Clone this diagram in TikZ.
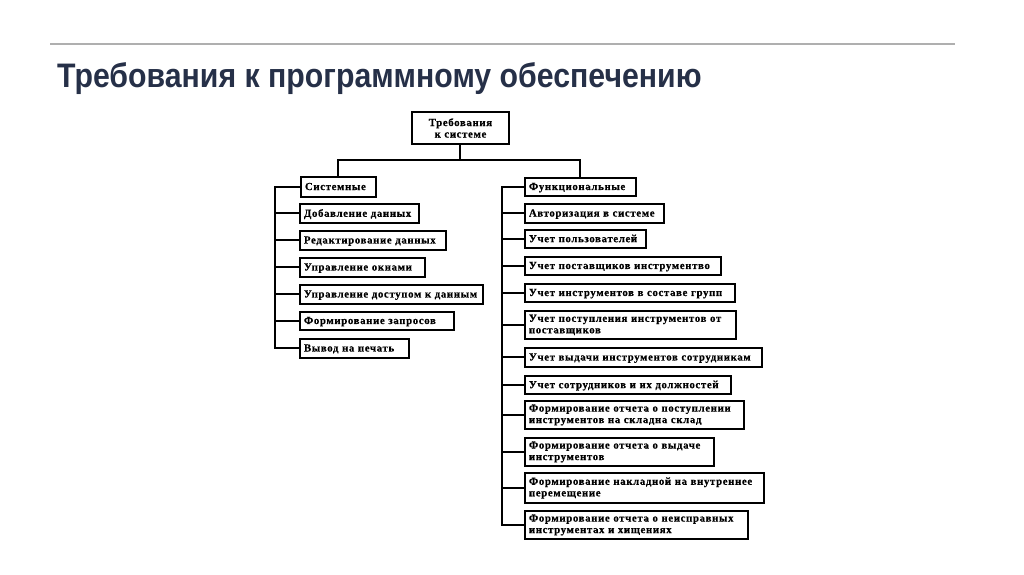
\documentclass[tikz,border=0pt]{standalone}
\usepackage{fontspec}
\setmainfont{Liberation Serif}
\newfontfamily\titlefont{Liberation Sans}[FakeStretch=0.89]
\newfontfamily\boxfont{Liberation Serif}[LetterSpace=6, BoldFeatures={FakeBold=0.6}]
\usetikzlibrary{shadows}
\definecolor{titlecol}{RGB}{38,48,72}
\definecolor{rulecol}{RGB}{175,175,175}
\tikzset{
  box/.style={draw=black, line width=1.9pt, fill=white, anchor=north west,
    align=left, inner xsep=4pt, inner ysep=0.5pt,
    font=\boxfont\bfseries\fontsize{10.8}{11.5}\selectfont,
    drop shadow={shadow xshift=1pt, shadow yshift=-1pt, fill=black!50, opacity=0.7}},
  oneline/.style={box, text depth=1pt},
  conn/.style={draw=black, line width=2pt},
}
\begin{document}
\begin{tikzpicture}[x=1pt,y=-1pt]
\useasboundingbox (0,0) rectangle (1024,574);
\coordinate (rs) at (50,44);
\coordinate (re) at (955,44);
\draw[rulecol, line width=1.5pt] (rs) -- (re);
\node[anchor=base west, inner sep=0pt, text=titlecol, font=\titlefont\bfseries\fontsize{34}{40}\selectfont] (title) at (57,87) {Требования к программному обеспечению};

\node[box, align=center, text width=89pt, minimum height=32pt] (top) at (411,111) {Требования\\к системе};

\node[oneline, text width=67pt, minimum height=20pt] (sys) at (300,176) {Системные};
\node[oneline, text width=111pt, minimum height=19pt] (l1) at (299,203) {Добавление данных};
\node[oneline, text width=138pt, minimum height=19pt] (l2) at (299,230) {Редактирование данных};
\node[oneline, text width=117pt, minimum height=19pt] (l3) at (299,257) {Управление окнами};
\node[oneline, text width=175pt, minimum height=19pt] (l4) at (299,284) {Управление доступом к данным};
\node[oneline, text width=146pt, minimum height=18pt] (l5) at (299,311) {Формирование запросов};
\node[oneline, text width=101pt, minimum height=19pt] (l6) at (299,338) {Вывод на печать};

\node[oneline, text width=103pt, minimum height=18pt] (fun) at (524,177) {Функциональные};
\node[oneline, text width=131pt, minimum height=19pt] (r1) at (524,203) {Авторизация в системе};
\node[oneline, text width=113pt, minimum height=18pt] (r2) at (524,229) {Учет пользователей};
\node[oneline, text width=188pt, minimum height=18pt] (r3) at (524,256) {Учет поставщиков инструментво};
\node[oneline, text width=202pt, minimum height=18pt] (r4) at (524,283) {Учет инструментов в составе групп};
\node[box, text width=203pt, minimum height=28pt] (r5) at (524,310) {Учет поступления инструментов от\\поставщиков};
\node[oneline, text width=229pt, minimum height=19pt] (r6) at (524,347) {Учет выдачи инструментов сотрудникам};
\node[oneline, text width=198pt, minimum height=18pt] (r7) at (524,375) {Учет сотрудников и их должностей};
\node[box, text width=211pt, minimum height=28pt] (r8) at (524,400) {Формирование отчета о поступлении\\инструментов на складна склад};
\node[box, text width=181pt, minimum height=28pt] (r9) at (524,437) {Формирование отчета о выдаче\\инструментов};
\node[box, text width=231pt, minimum height=30pt] (r10) at (524,472) {Формирование накладной на внутреннее\\перемещение};
\node[box, text width=215pt, minimum height=28pt] (r11) at (524,510) {Формирование отчета о неисправных\\инструментах и хищениях};

\coordinate (bus) at (0,160);
\coordinate (lx) at (275,0);
\coordinate (rx) at (502,0);
\draw[conn] (top.south) -- (top.south |- bus);
\draw[conn] (sys.north) -- (sys.north |- bus) -- (fun.north |- bus) -- (fun.north);
\draw[conn] (sys.west) -- (sys.west -| lx) -- (l6.west -| lx) -- (l6.west);
\foreach \n in {l1,l2,l3,l4,l5}{\draw[conn] (\n.west -| lx) -- (\n.west);}
\draw[conn] (fun.west) -- (fun.west -| rx) -- (r11.west -| rx) -- (r11.west);
\foreach \n in {r1,r2,r3,r4,r5,r6,r7,r8,r9,r10}{\draw[conn] (\n.west -| rx) -- (\n.west);}
\end{tikzpicture}
\end{document}
